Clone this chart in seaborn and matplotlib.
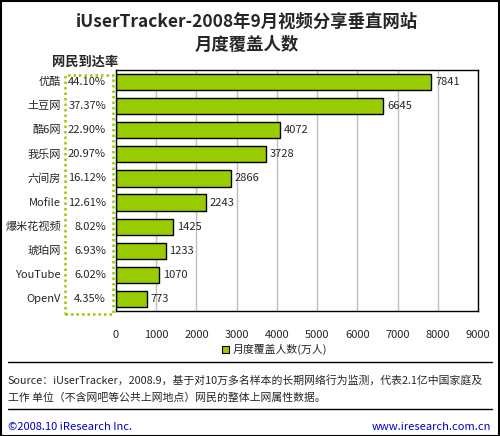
import matplotlib.pyplot as plt
import seaborn as sns
import pandas as pd
from matplotlib.patches import Rectangle
from matplotlib.lines import Line2D

sns.set_style('white')
plt.rcParams['font.family'] = ['Noto Sans CJK SC', 'DejaVu Sans']

sites = ['优酷', '土豆网', '酷6网', '我乐网', '六间房', 'Mofile', '爆米花视频', '琥珀网', 'YouTube', 'OpenV']
reach = ['44.10%', '37.37%', '22.90%', '20.97%', '16.12%', '12.61%', '8.02%', '6.93%', '6.02%', '4.35%']
coverage = [7841, 6645, 4072, 3728, 2866, 2243, 1425, 1233, 1070, 773]

df = pd.DataFrame({'site': sites, 'coverage': coverage})

W, H = 500, 436
fig = plt.figure(figsize=(5, 4.36), dpi=100, facecolor='white')
ax = fig.add_axes([116 / W, 1 - 311 / H, 362 / W, 241 / H])

sns.barplot(data=df, x='coverage', y='site', orient='h', color='#99CC00',
            edgecolor='black', linewidth=1, width=0.67, saturation=1, ax=ax)

ax.set_xlim(0, 9000)
ax.set_xticks(range(0, 9001, 1000))
ax.grid(axis='x', color='#c0c0c0', linewidth=1)
ax.set_axisbelow(True)
ax.set_xlabel('')
ax.set_ylabel('')
ax.set_yticklabels([])
ax.tick_params(axis='both', length=0)
ax.tick_params(axis='x', labelsize=8, pad=14)
for s in ax.spines.values():
    s.set_color('black')
    s.set_linewidth(1)

for i, v in enumerate(coverage):
    ax.text(v + 90, i, str(v), va='center', ha='left', fontsize=8)

# category names and reach rates on the left
for i, (name, r) in enumerate(zip(sites, reach)):
    y = 1 - (82 + i * 24.1) / H
    fig.text(61 / W, y, name, ha='right', va='center', fontsize=8)
    fig.text(106 / W, y, r, ha='right', va='center', fontsize=8)

fig.text(85 / W, 1 - 62 / H, '网民到达率', ha='center', va='center', fontsize=9.5, fontweight='bold')
fig.patches.append(Rectangle((65 / W, 1 - 314 / H), 48 / W, 239 / H, transform=fig.transFigure,
                             fill=False, edgecolor='#99CC00', linestyle=(0, (1, 1.2)), linewidth=1.8))

fig.text(247 / W, 1 - 22 / H, 'iUserTracker-2008年9月视频分享垂直网站', ha='center', va='center',
         fontsize=12.5, fontweight='bold')
fig.text(247 / W, 1 - 45 / H, '月度覆盖人数', ha='center', va='center', fontsize=12.5, fontweight='bold')

# legend
fig.patches.append(Rectangle((222 / W, 1 - 353 / H), 7 / W, 7 / H, transform=fig.transFigure,
                             facecolor='#99CC00', edgecolor='black', linewidth=0.8))
fig.text(233 / W, 1 - 349 / H, '月度覆盖人数(万人)', ha='left', va='center', fontsize=7.8)

fig.lines.append(Line2D([8 / W, 492 / W], [1 - 362 / H, 1 - 362 / H], transform=fig.transFigure,
                        color='black', linewidth=1))
fig.lines.append(Line2D([8 / W, 492 / W], [1 - 409 / H, 1 - 409 / H], transform=fig.transFigure,
                        color='black', linewidth=1))

fig.text(8 / W, 1 - 380 / H, 'Source：iUserTracker，2008.9，基于对10万多名样本的长期网络行为监测，代表2.1亿中国家庭及',
         ha='left', va='center', fontsize=7.8)
fig.text(8 / W, 1 - 398 / H, '工作 单位（不含网吧等公共上网地点）网民的整体上网属性数据。',
         ha='left', va='center', fontsize=7.8)

fig.text(8 / W, 1 - 427 / H, '©2008.10 iResearch Inc.', ha='left', va='center', fontsize=8, color='#0000CC')
fig.text(491 / W, 1 - 427 / H, 'www.iresearch.com.cn', ha='right', va='center', fontsize=8, color='#0000CC')

# outer frame
fig.patches.append(Rectangle((0.5 / W, 0.5 / H), 1 - 1.5 / W, 1 - 1.5 / H, transform=fig.transFigure,
                             fill=False, edgecolor='black', linewidth=1.5))

fig.savefig('out.png', dpi=100, facecolor='white')
